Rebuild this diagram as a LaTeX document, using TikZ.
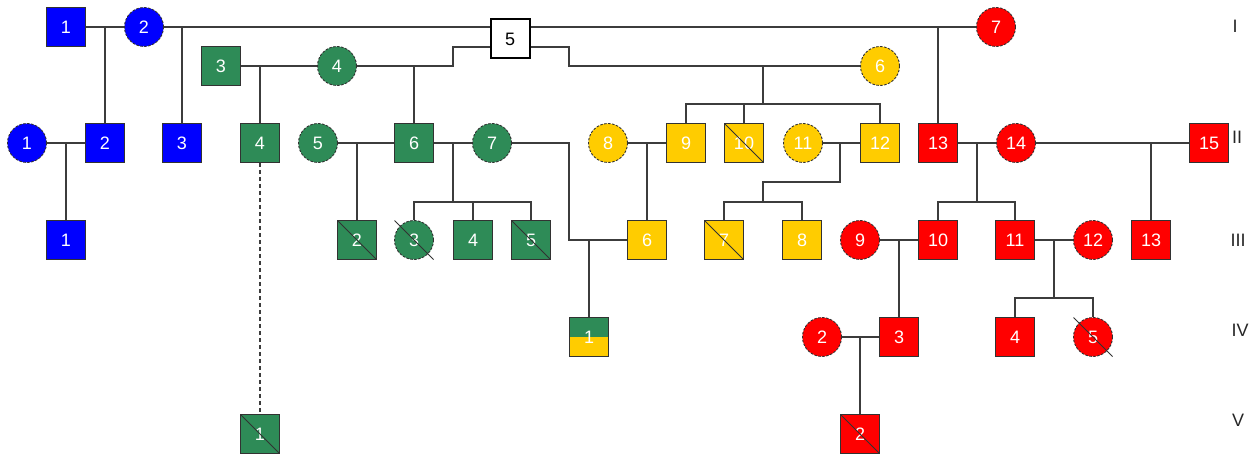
\documentclass[tikz,border=0pt]{standalone}
\usepackage{fontspec}
\setmainfont{Liberation Sans}
\usetikzlibrary{positioning, calc}

\definecolor{pblue}{RGB}{0,0,255}
\definecolor{pgreen}{RGB}{46,139,87}
\definecolor{pyellow}{RGB}{255,204,0}
\definecolor{pred}{RGB}{255,0,0}
\definecolor{rim}{RGB}{50,50,50}
\definecolor{wire}{RGB}{60,60,60}

\tikzset{
  person/.style={minimum size=39pt, inner sep=0pt, text=white, font=\fontsize{18}{18}\selectfont, line width=0.9pt, draw=rim},
  male/.style={person, rectangle},
  female/.style={person, circle, dash pattern=on 2.5pt off 1.5pt},
  dead/.style={append after command={([shift={(-19.5pt,19.5pt)}]\tikzlastnode.center) edge[draw=rim, line width=0.8pt, solid] ([shift={(19.5pt,-19.5pt)}]\tikzlastnode.center)}},
  gen/.style={font=\fontsize{18}{18}\selectfont, text=black!85},
  wire/.style={draw=wire, line width=1.3pt},
}

\begin{document}
\begin{tikzpicture}[x=1pt, y=-1pt, on grid]
  \useasboundingbox (0,0) rectangle (1258,454);

  % generation I
  \node[male, fill=pblue] (I1) at (66,27) {1};
  \node[female, fill=pblue] (I2) [right=78pt of I1] {2};
  \node[male, fill=pgreen] (I3) at (221,66) {3};
  \node[female, fill=pgreen] (I4) [right=116pt of I3] {4};
  \node[male, fill=white, text=black, draw=black, line width=2pt] (I5) at (510,39) {5};
  \node[female, fill=pyellow] (I6) at (880,66) {6};
  \node[female, fill=pred] (I7) at (996,27) {7};

  % generation II
  \node[female, fill=pblue] (II1) at (27,143) {1};
  \node[male, fill=pblue] (II2) [right=78pt of II1] {2};
  \node[male, fill=pblue] (II3) [right=77pt of II2] {3};
  \node[male, fill=pgreen] (II4) [right=78pt of II3] {4};
  \node[female, fill=pgreen] (II5) [right=58pt of II4] {5};
  \node[male, fill=pgreen] (II6) at (414,143) {6};
  \node[female, fill=pgreen] (II7) [right=78pt of II6] {7};
  \node[female, fill=pyellow] (II8) at (608,143) {8};
  \node[male, fill=pyellow] (II9) [right=78pt of II8] {9};
  \node[male, fill=pyellow, dead] (II10) [right=58pt of II9] {10};
  \node[female, fill=pyellow] (II11) at (803,143) {11};
  \node[male, fill=pyellow] (II12) [right=77pt of II11] {12};
  \node[male, fill=pred] (II13) [right=58pt of II12] {13};
  \node[female, fill=pred] (II14) at (1016,143) {14};
  \node[male, fill=pred] (II15) at (1209,143) {15};

  % generation III
  \node[male, fill=pblue] (III1) at (66,240) {1};
  \node[male, fill=pgreen, dead] (III2) at (357,240) {2};
  \node[female, fill=pgreen, dead] (III3) [right=57pt of III2] {3};
  \node[male, fill=pgreen] (III4) [right=59pt of III3] {4};
  \node[male, fill=pgreen, dead] (III5) [right=58pt of III4] {5};
  \node[male, fill=pyellow] (III6) at (647,240) {6};
  \node[male, fill=pyellow, dead] (III7) [right=77pt of III6] {7};
  \node[male, fill=pyellow] (III8) [right=78pt of III7] {8};
  \node[female, fill=pred] (III9) [right=58pt of III8] {9};
  \node[male, fill=pred] (III10) at (938,240) {10};
  \node[male, fill=pred] (III11) [right=77pt of III10] {11};
  \node[female, fill=pred] (III12) [right=78pt of III11] {12};
  \node[male, fill=pred] (III13) [right=58pt of III12] {13};

  % generation IV
  \node[male, fill=pgreen, path picture={\fill[pyellow] (path picture bounding box.west) rectangle (path picture bounding box.south east);}] (IV1) at (589,337) {1};
  \node[female, fill=pred] (IV2) at (822,337) {2};
  \node[male, fill=pred] (IV3) [right=77pt of IV2] {3};
  \node[male, fill=pred] (IV4) at (1015,337) {4};
  \node[female, fill=pred, dead] (IV5) [right=78pt of IV4] {5};

  % generation V
  \node[male, fill=pgreen, dead] (V1) at (260,434) {1};
  \node[male, fill=pred, dead] (V2) at (860,434) {2};

  % generation labels
  \node[gen] (gI) at (1235,26) {I};
  \node[gen] (gII) at (1237,137) {II};
  \node[gen] (gIII) at (1238,240) {III};
  \node[gen] (gIV) at (1240,330) {IV};
  \node[gen] (gV) at (1238,420) {V};

  \coordinate (k4) at (453,66);
  \coordinate (k6) at (569,66);
  \coordinate (s6) at (763,104);
  \coordinate (s7) at (453,202);
  \coordinate (k7) at (569,240);
  \coordinate (k11) at (840,182);
  \coordinate (s11) at (763,202);
  \coordinate (s13) at (977,202);
  \coordinate (s12) at (1054,298);

  \begin{scope}[wire]
    % couples of generation I
    \draw (I1) -- (I2);
    \draw (II2.north) -- (II2 |- I1);
    \draw (I2) -- (I5.west |- I2);
    \draw (I5.east |- I7) -- (I7);
    \draw (II3.north) -- (II3 |- I2);
    \draw (II13.north) -- (II13 |- I7);
    \draw (I3) -- (I4);
    \draw (II4.north) -- (II4 |- I3);
    \draw (I4) -- (k4) |- ([yshift=-8pt]I5.west);
    \draw (II6.north) -- (II6 |- I4);
    \draw ([yshift=-8pt]I5.east) -| (k6) -- (I6);
    \draw (s6 |- I6) -- (s6);
    \draw (II9.north) |- (s6) -| (II12.north);
    \draw (II10.north) -- (II10 |- s6);

    % couples of generation II
    \draw (II1) -- (II2);
    \draw (III1.north) -- (III1 |- II1);
    \draw[dash pattern=on 4pt off 3pt] (II4) -- (V1);
    \draw (II5) -- (II6);
    \draw (III2.north) -- (III2 |- II5);
    \draw (II6) -- (II7);
    \draw (s7 |- II6) -- (s7);
    \draw (III3.north) |- (s7) -| (III5.north);
    \draw (III4.north) -- (III4 |- s7);
    \draw (II7) -| (k7) -- (III6);
    \draw (IV1.north) -- (IV1 |- III6);
    \draw (II8) -- (II9);
    \draw (III6.north) -- (III6 |- II8);
    \draw (II11) -- (II12);
    \draw (k11 |- II11) -- (k11) -| (s11);
    \draw (III7.north) |- (s11) -| (III8.north);
    \draw (II13) -- (II14);
    \draw (s13 |- II13) -- (s13);
    \draw (III10.north) |- (s13) -| (III11.north);
    \draw (II14) -- (II15);
    \draw (III13.north) -- (III13 |- II15);

    % couples of generation III and IV
    \draw (III9) -- (III10);
    \draw (IV3.north) -- (IV3 |- III9);
    \draw (III11) -- (III12);
    \draw (s12 |- III11) -- (s12);
    \draw (IV4.north) |- (s12) -| (IV5.north);
    \draw (IV2) -- (IV3);
    \draw (V2.north) -- (V2 |- IV2);
  \end{scope}
\end{tikzpicture}
\end{document}
